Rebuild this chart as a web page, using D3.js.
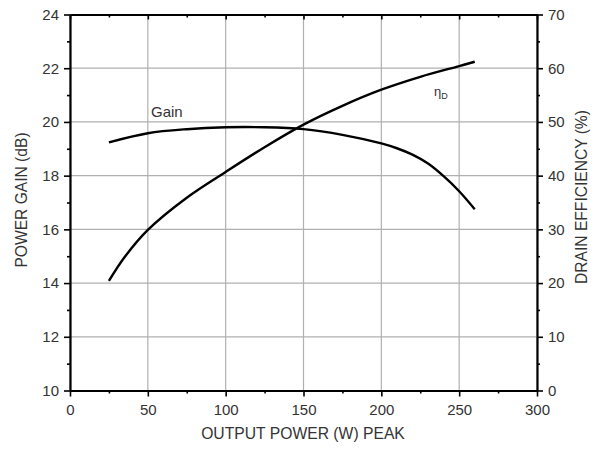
<!DOCTYPE html>
<html><head><meta charset="utf-8">
<script src="https://cdn.jsdelivr.net/npm/d3@7"></script>
<style>body{margin:0;background:#fff;} text{font-family:"Liberation Sans",Arial,sans-serif;fill:#333;}</style>
</head><body><svg id="c" width="596" height="449"></svg>
<script>
const xTicks = [0,50,100,150,200,250,300];
const gainTicks = [10,12,14,16,18,20,22,24];
const effTicks = [0,10,20,30,40,50,60,70];
const gainX = [25,50,75,100,125,150,175,200,210,220,230,240,250,260];
const gainY = [19.24,19.58,19.73,19.8,19.8,19.73,19.52,19.2,19.02,18.78,18.45,17.98,17.42,16.75];
const effX = [25,35,50,75,100,125,150,175,200,225,250,260];
const effY = [20.4,24.8,29.9,35.9,40.7,45.3,49.5,53.0,56.0,58.4,60.4,61.2];

const L=70,R=537,T=14.5,B=390.5;
const svg=d3.select("#c");
const x=d3.scaleLinear().domain([0,300]).range([L,R]);
const yG=d3.scaleLinear().domain([10,24]).range([B,T]);
const yE=d3.scaleLinear().domain([0,70]).range([B,T]);

// grid
svg.append("g").selectAll("line").data(xTicks).join("line")
 .attr("x1",d=>x(d)).attr("x2",d=>x(d)).attr("y1",T).attr("y2",B)
 .attr("stroke","#b0b0b0").attr("stroke-width",1.2);
svg.append("g").selectAll("line").data(gainTicks).join("line")
 .attr("y1",d=>yG(d)).attr("y2",d=>yG(d)).attr("x1",L).attr("x2",R)
 .attr("stroke","#b0b0b0").attr("stroke-width",1.2);

// curves
const lg=d3.line().x(d=>x(d[0])).y(d=>yG(d[1])).curve(d3.curveCatmullRom.alpha(0.5));
const le=d3.line().x(d=>x(d[0])).y(d=>yE(d[1])).curve(d3.curveCatmullRom.alpha(0.5));
svg.append("path").attr("d",lg(gainX.map((v,i)=>[v,gainY[i]]))).attr("fill","none").attr("stroke","#000").attr("stroke-width",2.4);
svg.append("path").attr("d",le(effX.map((v,i)=>[v,effY[i]]))).attr("fill","none").attr("stroke","#000").attr("stroke-width",2.4);

// axes
function style(g){g.select(".domain").attr("stroke","#000").attr("stroke-width",2.2);
 g.selectAll(".tick line").attr("stroke","#000").attr("stroke-width",1.6);
 g.selectAll("text").attr("font-size","15px").attr("fill","#333").style("font-family","Liberation Sans, Arial, sans-serif");}
function minor(g){g.select(".domain").remove();g.selectAll("line").attr("stroke","#000").attr("stroke-width",1.6);}
const minorX=d3.range(25,300,50), minorG=d3.range(11,24,2), minorE=d3.range(5,70,10);

svg.append("g").attr("transform",`translate(0,${B})`).call(d3.axisBottom(x).tickValues(xTicks).tickSize(6).tickSizeOuter(0).tickPadding(8)).call(style);
svg.append("g").attr("transform",`translate(0,${B})`).call(d3.axisBottom(x).tickValues(minorX).tickSize(3).tickFormat("")).call(minor);
svg.append("g").attr("transform",`translate(0,${T})`).call(d3.axisBottom(x).tickValues(xTicks).tickSize(5).tickSizeOuter(0).tickFormat("")).call(style);
svg.append("g").attr("transform",`translate(0,${T})`).call(d3.axisBottom(x).tickValues(minorX).tickSize(3).tickFormat("")).call(minor);
svg.append("g").attr("transform",`translate(${L},0)`).call(d3.axisLeft(yG).tickValues(gainTicks).tickSize(6).tickSizeOuter(0).tickPadding(5)).call(style);
svg.append("g").attr("transform",`translate(${L},0)`).call(d3.axisLeft(yG).tickValues(minorG).tickSize(3).tickFormat("")).call(minor);
svg.append("g").attr("transform",`translate(${R},0)`).call(d3.axisRight(yE).tickValues(effTicks).tickSize(6).tickSizeOuter(0).tickPadding(5)).call(style);
svg.append("g").attr("transform",`translate(${R},0)`).call(d3.axisRight(yE).tickValues(minorE).tickSize(3).tickFormat("")).call(minor);

// titles
svg.append("text").attr("x",303).attr("y",439).attr("text-anchor","middle").attr("font-size","15.7px").text("OUTPUT POWER (W) PEAK");
svg.append("text").attr("transform","translate(27,200) rotate(-90)").attr("text-anchor","middle").attr("font-size","15.6px").text("POWER GAIN (dB)");
svg.append("text").attr("transform","translate(587,197) rotate(-90)").attr("text-anchor","middle").attr("font-size","15.6px").text("DRAIN EFFICIENCY (%)");

// labels
svg.append("text").attr("x",151).attr("y",117).attr("font-size","15px").text("Gain");
const eta=svg.append("text").attr("x",434).attr("y",96).attr("font-size","13px");
eta.append("tspan").text("η");
eta.append("tspan").attr("font-size","9px").attr("dy",3).text("D");
</script></body></html>
